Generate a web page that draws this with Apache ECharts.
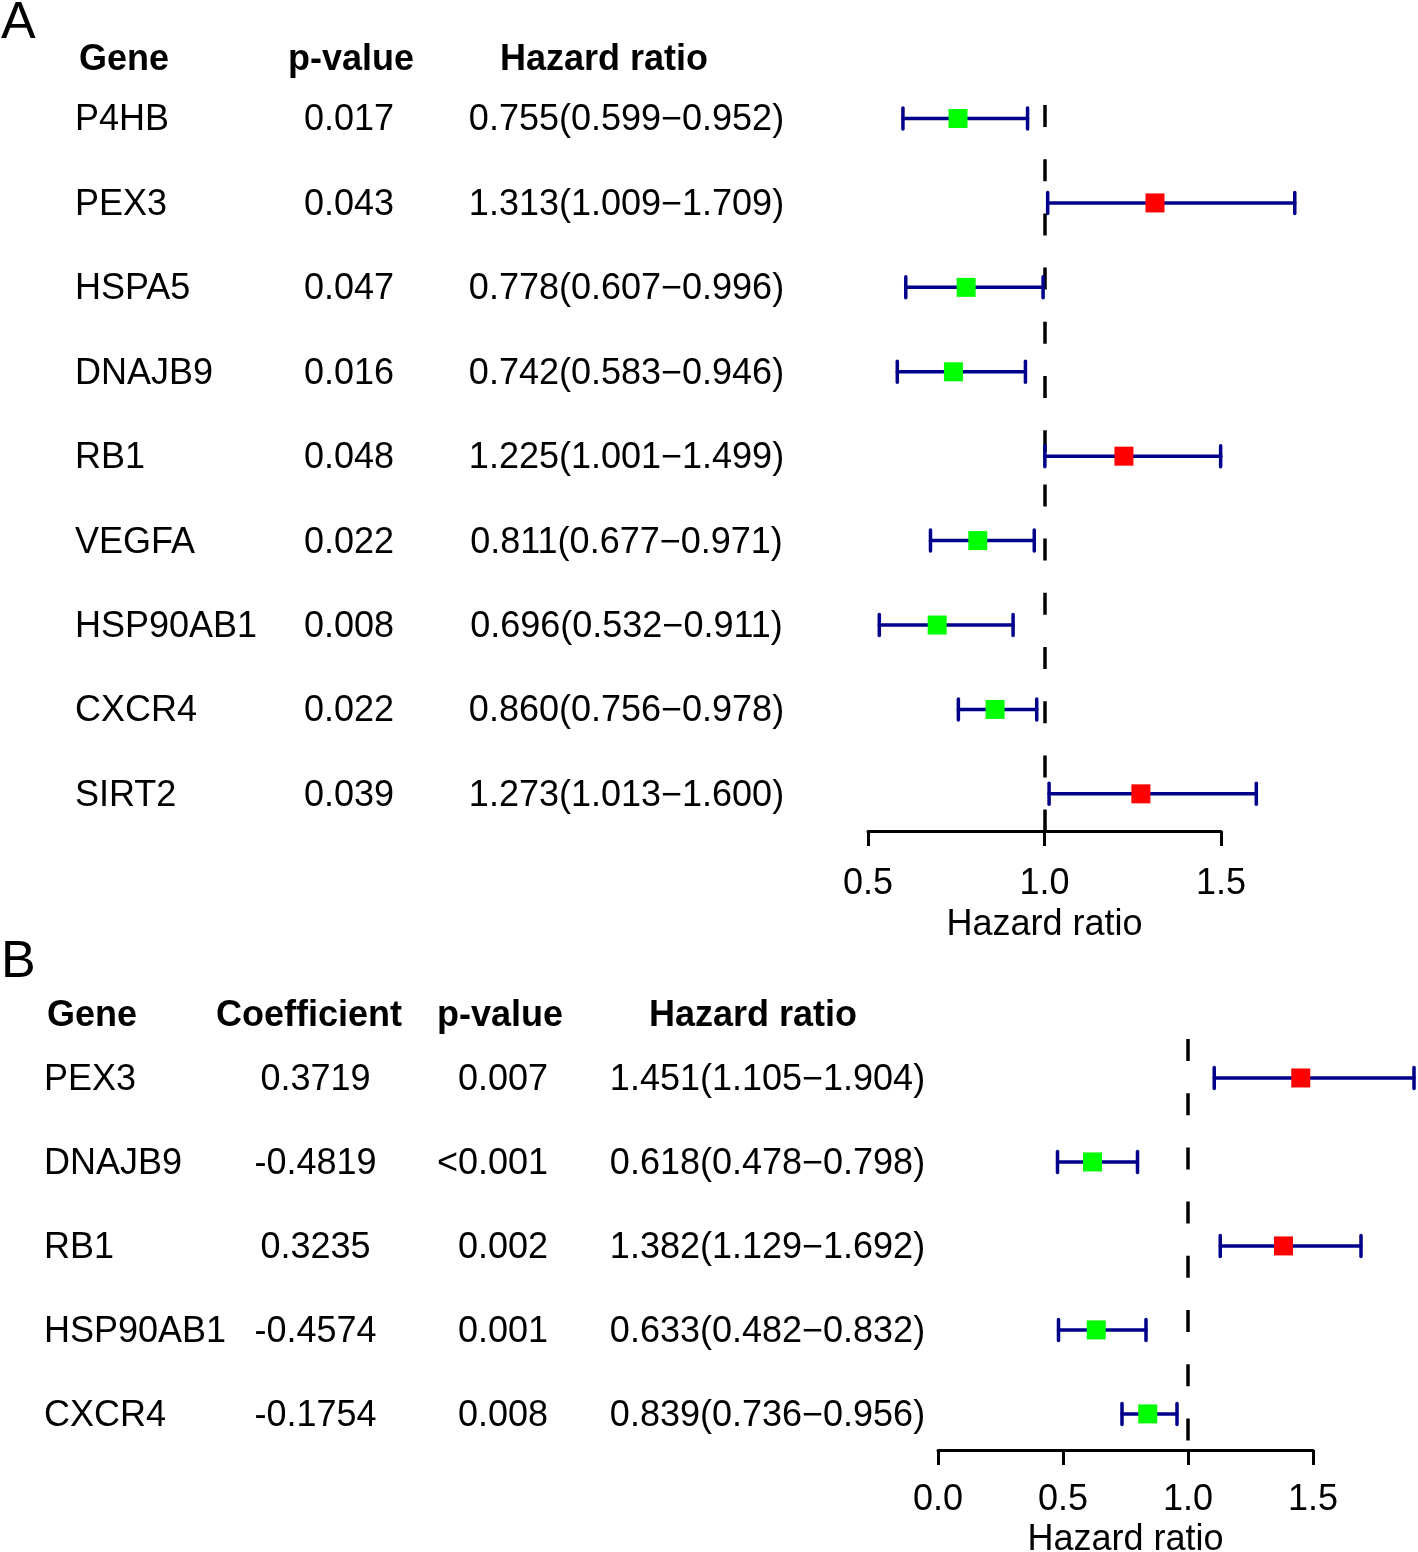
<!DOCTYPE html>
<html>
<head>
<meta charset="utf-8">
<script src="https://cdn.jsdelivr.net/npm/echarts@6/dist/echarts.min.js"></script>
<style>
html,body{margin:0;padding:0;background:#fff;}
#chart{width:1418px;height:1552px;}
</style>
</head>
<body>
<div id="chart"></div>
<script>
// ---------- Panel A data (univariate) ----------
const genesA = ['P4HB','PEX3','HSPA5','DNAJB9','RB1','VEGFA','HSP90AB1','CXCR4','SIRT2'];
const pA     = ['0.017','0.043','0.047','0.016','0.048','0.022','0.008','0.022','0.039'];
const hrA    = [0.755,1.313,0.778,0.742,1.225,0.811,0.696,0.860,1.273];
const lowA   = [0.599,1.009,0.607,0.583,1.001,0.677,0.532,0.756,1.013];
const highA  = [0.952,1.709,0.996,0.946,1.499,0.971,0.911,0.978,1.600];
const headersA = ['Gene','p-value','Hazard ratio'];
const ticksA = [0.5, 1.0, 1.5];

// ---------- Panel B data (multivariate) ----------
const genesB = ['PEX3','DNAJB9','RB1','HSP90AB1','CXCR4'];
const coefB  = ['0.3719','-0.4819','0.3235','-0.4574','-0.1754'];
const pB     = ['0.007','<0.001','0.002','0.001','0.008'];
const hrB    = [1.451,0.618,1.382,0.633,0.839];
const lowB   = [1.105,0.478,1.129,0.482,0.736];
const highB  = [1.904,0.798,1.692,0.832,0.956];
const headersB = ['Gene','Coefficient','p-value','Hazard ratio'];
const ticksB = [0.0, 0.5, 1.0, 1.5];

const FONT = '"Liberation Sans", Arial, Helvetica, sans-serif';
const FS = 36;
const BLUE = '#00008B';
const TEXT_DY = 2;

function hrText(h, l, u) {
  return h.toFixed(3) + '(' + l.toFixed(3) + '\u2212' + u.toFixed(3) + ')';
}
const hrTxtA = hrA.map((h, i) => hrText(h, lowA[i], highA[i]));
const hrTxtB = hrB.map((h, i) => hrText(h, lowB[i], highB[i]));

// table columns (text, x position, alignment)
const colsA = [
  {vals: genesA, x: 75, align: 'left'},
  {vals: pA, x: 349, align: 'center'},
  {vals: hrTxtA, x: 626.5, align: 'center'}
];
const colsB = [
  {vals: genesB, x: 44, align: 'left'},
  {vals: coefB, x: 315.5, align: 'center'},
  {vals: pB, x: 548, align: 'right'},
  {vals: hrTxtB, x: 767.5, align: 'center'}
];
const headPosA = [124, 351, 604];
const headPosB = [92, 309, 500, 753];

function tableSeries(gridIdx, cols, n) {
  return {
    type: 'custom', xAxisIndex: gridIdx, yAxisIndex: gridIdx, silent: true,
    clip: false, z: 5,
    data: Array.from({length: n}, (_, i) => [1, i]),
    renderItem: function (params, api) {
      const i = api.value(1);
      const y = api.coord([1, i])[1] + TEXT_DY;
      return {
        type: 'group',
        children: cols.map(c => ({
          type: 'text',
          style: {text: c.vals[i], x: c.x, y: y, fill: '#000',
                  font: FS + 'px ' + FONT, align: c.align, verticalAlign: 'middle'}
        }))
      };
    }
  };
}

function errorSeries(gridIdx, low, high) {
  return {
    type: 'custom', xAxisIndex: gridIdx, yAxisIndex: gridIdx, silent: true,
    clip: false, z: 6,
    data: low.map((l, i) => [l, high[i], i]),
    encode: {x: [0, 1], y: 2},
    renderItem: function (params, api) {
      const a = api.coord([api.value(0), api.value(2)]);
      const b = api.coord([api.value(1), api.value(2)]);
      const st = {stroke: BLUE, lineWidth: 3.5, lineCap: 'round'};
      const cap = 10.5;
      return {
        type: 'group',
        children: [
          {type: 'line', shape: {x1: a[0], y1: a[1], x2: b[0], y2: b[1]}, style: st},
          {type: 'line', shape: {x1: a[0], y1: a[1] - cap, x2: a[0], y2: a[1] + cap}, style: st},
          {type: 'line', shape: {x1: b[0], y1: b[1] - cap, x2: b[0], y2: b[1] + cap}, style: st}
        ]
      };
    }
  };
}

function pointSeries(gridIdx, hr) {
  return {
    type: 'scatter', xAxisIndex: gridIdx, yAxisIndex: gridIdx, silent: true,
    symbol: 'rect', symbolSize: 19, z: 7, clip: false,
    data: hr.map((h, i) => ({value: [h, i], itemStyle: {color: h > 1 ? '#FF0000' : '#00FF00', opacity: 1}})),
    markLine: {
      silent: true, symbol: ['none', 'none'], animation: false,
      label: {show: false},
      lineStyle: {color: '#000', width: 3.5, type: [22, 32.2], cap: 'butt'},
      data: [{xAxis: 1}]
    }
  };
}

function xAxisCfg(gridIdx, min, max, margin, gap) {
  return {
    gridIndex: gridIdx, type: 'value', min: min, max: max, interval: 0.5,
    name: 'Hazard ratio', nameLocation: 'middle', nameGap: gap,
    nameTextStyle: {fontFamily: FONT, fontSize: FS, color: '#000'},
    axisLine: {show: true, onZero: false, lineStyle: {color: '#000', width: 3}},
    axisTick: {show: true, inside: false, length: 15, lineStyle: {color: '#000', width: 3}},
    axisLabel: {show: true, margin: margin, fontFamily: FONT, fontSize: FS, color: '#000',
                formatter: v => v.toFixed(1)},
    splitLine: {show: false}
  };
}

const chart = echarts.init(document.getElementById('chart'), null, {renderer: 'canvas'});

const graphics = [
  {type: 'text', left: 1, top: -2, style: {text: 'A', font: '52px ' + FONT, fill: '#000'}},
  {type: 'text', left: 1, top: 937, style: {text: 'B', font: '52px ' + FONT, fill: '#000'}}
];
headersA.forEach((h, k) => graphics.push({
  type: 'text', x: headPosA[k], y: 60,
  style: {text: h, font: 'bold ' + FS + 'px ' + FONT, fill: '#000', align: 'center', verticalAlign: 'middle'}
}));
headersB.forEach((h, k) => graphics.push({
  type: 'text', x: headPosB[k], y: 1016,
  style: {text: h, font: 'bold ' + FS + 'px ' + FONT, fill: '#000', align: 'center', verticalAlign: 'middle'}
}));

chart.setOption({
  animation: false,
  backgroundColor: '#fff',
  graphic: graphics,
  grid: [
    {left: 868, width: 353, top: 105, height: 726, outerBoundsMode: 'none', containLabel: false},
    {left: 938, width: 375, top: 1039, height: 411, outerBoundsMode: 'none', containLabel: false}
  ],
  xAxis: [xAxisCfg(0, 0.5, 1.5, 35, 76), xAxisCfg(1, 0, 1.5, 32, 72)],
  yAxis: [
    {gridIndex: 0, type: 'value', inverse: true, min: -0.16, max: 8.44, show: false},
    {gridIndex: 1, type: 'value', inverse: true, min: -0.464, max: 4.43, show: false}
  ],
  series: [
    tableSeries(0, colsA, genesA.length),
    errorSeries(0, lowA, highA),
    pointSeries(0, hrA),
    tableSeries(1, colsB, genesB.length),
    errorSeries(1, lowB, highB),
    pointSeries(1, hrB)
  ]
});
</script>
</body>
</html>
